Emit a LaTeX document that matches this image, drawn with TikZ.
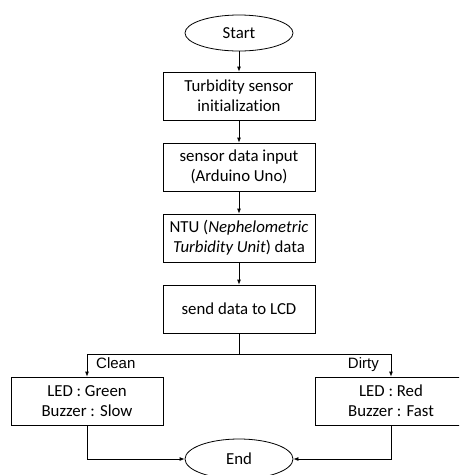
\documentclass[tikz,border=0pt]{standalone}
\usepackage{fontspec}
\setmainfont{Carlito}[Ligatures=NoCommon]
\newfontfamily\labelfont{Liberation Sans}
\usetikzlibrary{shapes.geometric,arrows.meta}
\begin{document}
\begin{tikzpicture}[x=1pt,y=-1pt,
  box/.style={draw,line width=0.8pt,minimum width=152pt,minimum height=48pt,inner sep=0pt,align=center,font=\fontsize{16.8}{20}\selectfont},
  term/.style={draw,ellipse,line width=0.8pt,minimum width=108pt,minimum height=36pt,inner sep=0pt,font=\fontsize{16.8}{20}\selectfont},
  arr/.style={line width=0.8pt,-{Latex[length=5pt,width=4pt]}},
  lnk/.style={line width=0.8pt},
  lab/.style={font=\labelfont\fontsize{15}{18}\selectfont,inner sep=0pt}]
\useasboundingbox (0,0) rectangle (459,475);
\clip (0,0) rectangle (459,475);
\node[term] (start) at (239,33) {Start};
\node[box] (b1) at (239,96) {Turbidity sensor\\initialization};
\node[box] (b2) at (239,167) {sensor data input\\(Arduino Uno)};
\node[box] (b3) at (239,238) {NTU (\textit{Nephelometric}\\\textit{Turbidity Unit}) data};
\node[box] (b4) at (239,309) {send data to LCD};
\coordinate (j) at (239,354);
\node[box] (L) at (87,401) {LED : Green\\Buzzer : Slow};
\node[box] (R) at (391,401) {LED : Red\\Buzzer : Fast};
\node[term,minimum height=40pt] (end) at (239,459) {End};
\draw[arr] (start) -- (b1);
\draw[arr] (b1) -- (b2);
\draw[arr] (b2) -- (b3);
\draw[arr] (b3) -- (b4);
\draw[lnk] (b4) -- (j);
\draw[arr] (j) -| (L.north);
\draw[arr] (j) -| (R.north);
\node[lab,anchor=base west] (clean) at (96,368) {Clean};
\node[lab,anchor=base east] (dirty) at (379,368) {Dirty};
\draw[arr] (L.south) |- (end.west);
\draw[arr] (R.south) |- (end.east);
\end{tikzpicture}
\end{document}
